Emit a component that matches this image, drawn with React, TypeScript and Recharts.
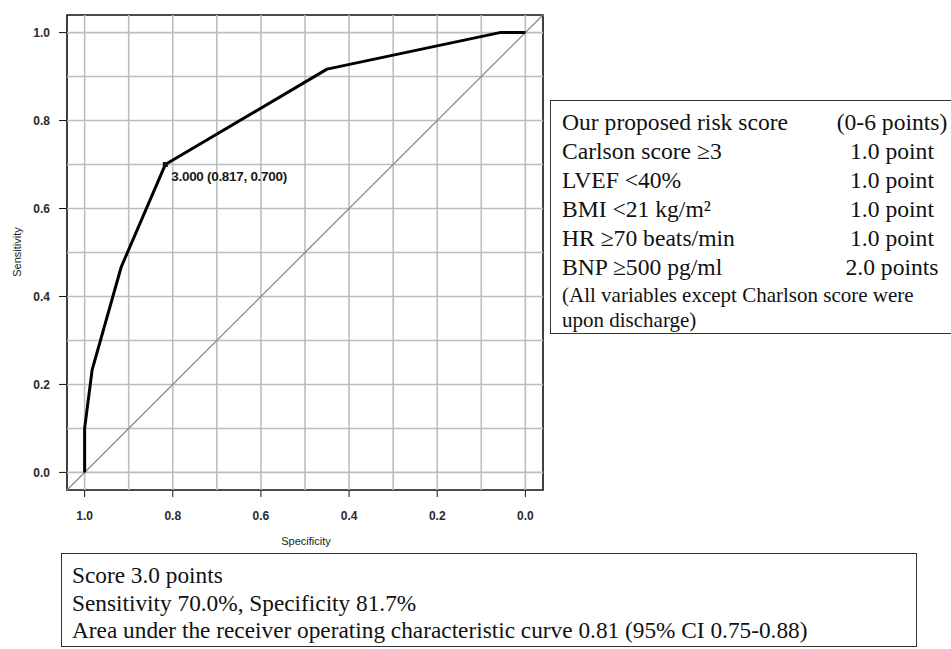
import { LineChart, Line, XAxis, YAxis, ReferenceLine, ReferenceArea, ReferenceDot } from 'recharts';

// ROC points (specificity, sensitivity)
const rocSpecificity = [1.0, 1.0, 0.983, 0.917, 0.817, 0.45, 0.058, 0.0];
const rocSensitivity = [0.0, 0.1, 0.233, 0.467, 0.7, 0.917, 1.0, 1.0];

const specificityTicks = [1.0, 0.8, 0.6, 0.4, 0.2, 0.0];
const sensitivityTicks = [0.0, 0.2, 0.4, 0.6, 0.8, 1.0];
const gridValues = [0.0, 0.1, 0.2, 0.3, 0.4, 0.5, 0.6, 0.7, 0.8, 0.9, 1.0];

const cutoff = { score: 3.0, spec: 0.817, sens: 0.7 };

const scoreItems = ['Our proposed risk score', 'Carlson score ≥3', 'LVEF <40%', 'BMI <21 kg/m²', 'HR ≥70 beats/min', 'BNP ≥500 pg/ml'];
const scorePoints = ['(0-6 points)', '1.0 point', '1.0 point', '1.0 point', '1.0 point', '2.0 points'];
const scoreNote = ['(All variables except Charlson score were', 'upon discharge)'];

const summaryLines = [
    'Score 3.0 points',
    'Sensitivity 70.0%, Specificity 81.7%',
    'Area under the receiver operating characteristic curve 0.81 (95% CI 0.75-0.88)',
];

const rocData = rocSpecificity.map((spec, i) => ({ spec, sens: rocSensitivity[i] }));

const DOMAIN: [number, number] = [-0.04, 1.04];
const SANS = '"Liberation Sans", Arial, sans-serif';
const SERIF = '"Liberation Serif", "Times New Roman", serif';

function CutoffDot(props: any) {
    const { cx, cy } = props;
    return (
        <g>
            <rect x={cx - 2.5} y={cy - 2.5} width={5} height={5} fill="#111" />
            <text x={cx + 6} y={cy + 16} fontFamily={SANS} fontSize={13.5} fontWeight="bold" fill="#1a1a1a" letterSpacing={-0.3}>
                {`${cutoff.score.toFixed(3)} (${cutoff.spec.toFixed(3)}, ${cutoff.sens.toFixed(3)})`}
            </text>
        </g>
    );
}

const tickStyle = { fontSize: 12, fill: '#2a2a2a', fontFamily: SANS, fontWeight: 'bold' as const };

export default function App() {
    return (
        <div style={{ position: 'absolute', left: 0, top: 0, width: 951, height: 649, background: '#fff', overflow: 'hidden' }}>
            <LineChart width={951} height={649} data={rocData} margin={{ top: 15, right: 408, bottom: 99, left: 7 }}>
                <XAxis
                    dataKey="spec"
                    type="number"
                    domain={DOMAIN}
                    allowDataOverflow
                    reversed
                    ticks={specificityTicks}
                    tickFormatter={(v: number) => v.toFixed(1)}
                    axisLine={false}
                    tickSize={7}
                    tickMargin={14}
                    height={60}
                    tickLine={{ stroke: '#111' }}
                    tick={tickStyle}
                />
                <YAxis
                    type="number"
                    domain={DOMAIN}
                    allowDataOverflow
                    ticks={sensitivityTicks}
                    tickFormatter={(v: number) => v.toFixed(1)}
                    axisLine={false}
                    tickSize={8}
                    tickMargin={9}
                    width={60}
                    tickLine={{ stroke: '#111' }}
                    tick={tickStyle}
                />
                {gridValues.map((v) => (
                    <ReferenceLine key={`gx${v}`} x={v} stroke="#bdbdbd" strokeWidth={1.6} />
                ))}
                {gridValues.map((v) => (
                    <ReferenceLine key={`gy${v}`} y={v} stroke="#bdbdbd" strokeWidth={1.6} />
                ))}
                <ReferenceLine
                    segment={[{ x: DOMAIN[1], y: DOMAIN[0] }, { x: DOMAIN[0], y: DOMAIN[1] }]}
                    stroke="#8a8a8a"
                    strokeWidth={1.3}
                />
                <ReferenceArea x1={DOMAIN[0]} x2={DOMAIN[1]} y1={DOMAIN[0]} y2={DOMAIN[1]} fill="none" stroke="#111" strokeWidth={1.6} />
                <Line
                    type="linear"
                    dataKey="sens"
                    stroke="#000"
                    strokeWidth={3}
                    dot={false}
                    strokeLinejoin="round"
                    isAnimationActive={false}
                />
                <ReferenceDot x={cutoff.spec} y={cutoff.sens} r={3} shape={CutoffDot} />
            </LineChart>

            <div style={{ position: 'absolute', left: 17, top: 252, transform: 'translate(-50%, -50%) rotate(-90deg)', fontFamily: SANS, fontSize: 11, color: '#222', whiteSpace: 'nowrap' }}>
                Sensitivity
            </div>
            <div style={{ position: 'absolute', left: 306, top: 541, transform: 'translate(-50%, -50%)', fontFamily: SANS, fontSize: 11, color: '#222', whiteSpace: 'nowrap' }}>
                Specificity
            </div>

            <div style={{ position: 'absolute', left: 550, top: 100, width: 420, height: 234, border: '1.5px solid #333', boxSizing: 'border-box' }} />
            {scoreItems.map((t, i) => (
                <div key={t} style={{ position: 'absolute', left: 562, top: 122 + i * 29 - 14, lineHeight: '28px', fontFamily: SERIF, fontSize: 23.6, color: '#111', whiteSpace: 'nowrap' }}>
                    {t}
                </div>
            ))}
            {scorePoints.map((t, i) => (
                <div key={`p${i}`} style={{ position: 'absolute', left: 830, width: 124, textAlign: 'center', top: 122 + i * 29 - 14, lineHeight: '28px', fontFamily: SERIF, fontSize: 23.6, color: '#111', whiteSpace: 'nowrap' }}>
                    {t}
                </div>
            ))}
            {scoreNote.map((t, i) => (
                <div key={t} style={{ position: 'absolute', left: 562, top: 295 + i * 25 - 12, lineHeight: '24px', fontFamily: SERIF, fontSize: 21, color: '#111', whiteSpace: 'nowrap' }}>
                    {t}
                </div>
            ))}

            <div style={{ position: 'absolute', left: 61, top: 553, width: 856, height: 94, border: '1.5px solid #333', boxSizing: 'border-box' }} />
            {summaryLines.map((t, i) => (
                <div key={t} style={{ position: 'absolute', left: 72, top: 575 + i * 27.5 - 14, lineHeight: '28px', fontFamily: SERIF, fontSize: 23.3, color: '#111', whiteSpace: 'nowrap' }}>
                    {t}
                </div>
            ))}
        </div>
    );
}
